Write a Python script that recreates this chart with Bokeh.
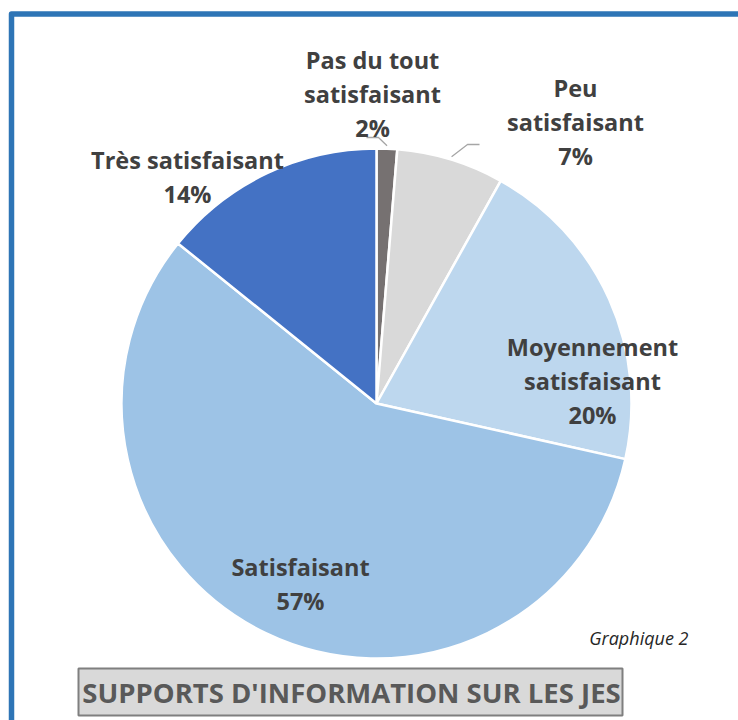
import math
from bokeh.plotting import figure
from bokeh.models import Range1d
from bokeh.core.properties import value
from bokeh.embed import file_html
from bokeh.resources import INLINE

# ---- data ----
categories = ["Pas du tout\nsatisfaisant", "Peu\nsatisfaisant", "Moyennement\nsatisfaisant",
              "Satisfaisant", "Très satisfaisant"]
values = [1.3, 6.8, 20.4, 57.3, 14.2]
pct_labels = ["2%", "7%", "20%", "57%", "14%"]
colors = ["#767171", "#D9D9D9", "#BDD7EE", "#9DC3E6", "#4472C4"]
title_text = "SUPPORTS D'INFORMATION SUR LES JES"
caption_text = "Graphique 2"

# ---- layout (page pixel coords, y measured from top) ----
W, H = 738, 720
def Y(py):
    return H - py

CX, CY, R = 376, 403, 255
label_pos = [(372, 59), (575, 87), (592, 346), (300, 566), (187, 159)]
LINE_GAP = 34
leaders = {0: [(366, 137), (378, 137)], 1: [(479, 144), (467, 144)]}

p = figure(width=W, height=H, output_backend="svg", toolbar_location=None,
           x_range=Range1d(0, W), y_range=Range1d(0, H),
           min_border=0, outline_line_color=None)
p.axis.visible = False
p.grid.visible = False
p.background_fill_color = "white"
p.border_fill_color = "white"

# blue frame
p.line(x=[11, 11, 760], y=[Y(740), Y(13.5), Y(13.5)], line_width=5.5,
       line_color="#2E75B6", line_join="round")

# pie
total = sum(values)
cum = 0.0
starts, ends, mids = [], [], []
for v in values:
    a0 = math.pi / 2 - 2 * math.pi * cum / total
    cum += v
    a1 = math.pi / 2 - 2 * math.pi * cum / total
    starts.append(a0); ends.append(a1); mids.append((a0 + a1) / 2)

p.wedge(x=[CX] * len(values), y=[Y(CY)] * len(values), radius=R,
        start_angle=starts, end_angle=ends, direction="clock",
        fill_color=colors, line_color="white", line_width=2.5)

# leader lines
for i, pts in leaders.items():
    ex = CX + (R + 3) * math.cos(mids[i])
    ey = Y(CY) + (R + 3) * math.sin(mids[i])
    xs = [q[0] for q in pts] + [ex]
    ys = [Y(q[1]) for q in pts] + [ey]
    p.line(x=xs, y=ys, line_color="#A6A6A6", line_width=1.3)

# labels
tx, ty, tt = [], [], []
for (lx, ly), name, pc in zip(label_pos, categories, pct_labels):
    lines = name.split("\n") + [pc]
    for k, s in enumerate(lines):
        tx.append(lx); ty.append(Y(ly + k * LINE_GAP)); tt.append(s)
p.text(x=tx, y=ty, text=tt, text_align="center", text_baseline="middle",
       text_font=value("Open Sans"), text_font_style="bold",
       text_font_size="23.5px", text_color="#404040")

# caption
p.text(x=[688], y=[Y(637)], text=[caption_text], text_align="right",
       text_baseline="middle", text_font=value("Open Sans"),
       text_font_style="italic", text_font_size="18px", text_color="#262626")

# title box
p.quad(left=[78], right=[622], top=[Y(668)], bottom=[Y(715)],
       fill_color="#D9D9D9", line_color="#7F7F7F", line_width=2)
p.text(x=[351], y=[Y(692)], text=[title_text], text_align="center",
       text_baseline="middle", text_font=value("Open Sans"),
       text_font_style="bold", text_font_size="27.5px", text_color="#595959")

open("out.html", "w").write(file_html(p, INLINE))
